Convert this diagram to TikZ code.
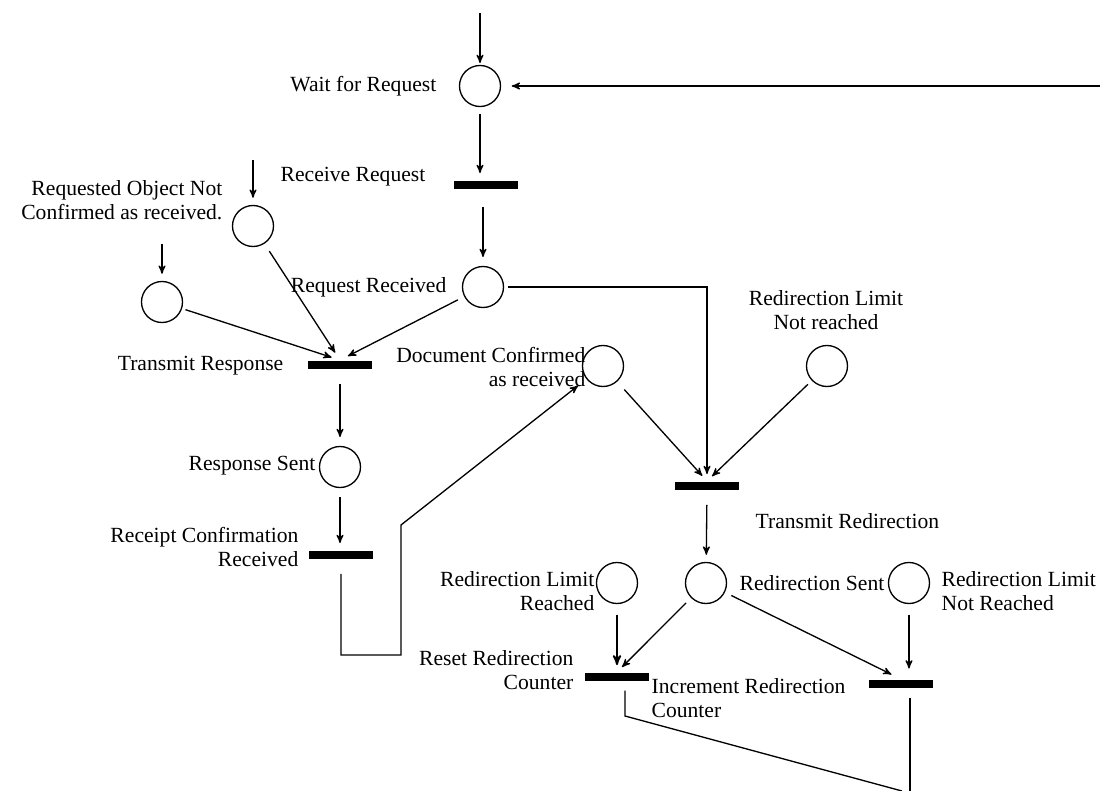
\documentclass[tikz,border=0pt]{standalone}
\usepackage{fontspec}
\setmainfont{Liberation Serif}
\usetikzlibrary{arrows}
\usetikzlibrary{positioning}

\begin{document}
\begin{tikzpicture}[x=0.02cm,y=-0.02cm,->,>=stealth',shorten >=1pt,shorten <=2pt,line width=0.75pt,
    place node/.style={circle,draw,minimum size=0.82cm,inner sep=0pt},
    bar node/.style={fill=black,minimum width=1.3cm,minimum height=0.17cm,inner sep=0pt},
    text node/.style={font=\fontsize{12.3}{14}\selectfont,inner sep=0pt}]
  \useasboundingbox (0,0) rectangle (1100,791);
  % places
  \node[place node] (wr) at (480,86) {};
  \node[place node] (ro) at (253,226) {};
  \node[place node] (lc) at (162,302) {};
  \node[place node] (rr) at (483,287) {};
  \node[place node] (rs) at (340,467) {};
  \node[place node] (dc) at (603,366) {};
  \node[place node] (lnr) at (827,366) {};
  \node[place node] (lr) at (617,583) {};
  \node[place node] (sent) at (706,583) {};
  \node[place node] (lnr2) at (909,583) {};
  % transitions
  \node[bar node] (rcv) at (486,185) {};
  \node[bar node] (tr) at (340,365) {};
  \node[bar node] (rcb) at (341,555) {};
  \node[bar node] (trd) at (707,486) {};
  \node[bar node] (rsb) at (617,677) {};
  \node[bar node] (inc) at (901,684) {};
  % labels
  \node[text node,anchor=east] (wrt) at (437,86) {Wait for Request};
  \node[text node,anchor=east] (rcvt) at (426,177) {Receive Request};
  \node[text node,anchor=east,align=right] (rot) at (223,200) {Requested Object Not\\Confirmed as received.};
  \node[text node,anchor=east] (rrt) at (447,287) {Request Received};
  \node[text node,anchor=east] (trt) at (284,366) {Transmit Response};
  \node[text node,anchor=east] (rst) at (316,466) {Response Sent};
  \node[text node,anchor=east,align=right] (rcbt) at (299,547) {Receipt Confirmation\\Received};
  \node[text node,anchor=east,align=right] (dct) at (586,367) {Document Confirmed\\as received};
  \node[text node,align=center] (lnrt) at (826,310) {Redirection Limit\\Not reached};
  \node[text node,anchor=west] (trdt) at (755,521) {Transmit Redirection};
  \node[text node,anchor=east,align=right] (lrt) at (595,591) {Redirection Limit\\Reached};
  \node[text node,anchor=east] (sentt) at (885,583) {Redirection Sent};
  \node[text node,anchor=west,align=left] (lnr2t) at (941,591) {Redirection Limit\\Not Reached};
  \node[text node,anchor=east,align=right] (rsbt) at (574,670) {Reset Redirection\\Counter};
  \node[text node,anchor=west,align=left] (inct) at (651,698) {Increment Redirection\\Counter};
  % free ends
  \coordinate (start) at (480,13);
  \coordinate (back) at (1100,86);
  \coordinate (in1) at (253,160);
  \coordinate (in2) at (162,244);
  \coordinate (k1) at (401,655);
  \coordinate (k2) at (401,525);
  \coordinate (k3) at (625,716);
  \coordinate (end1) at (902,791);
  \coordinate (end2) at (910,791);
  % arcs
  \path (start) edge[shorten <=0pt] (wr);
  \path (back) edge[shorten <=0pt,shorten >=6pt] (wr);
  \path (wr) edge[shorten <=4pt,shorten >=4pt] (rcv.north -| wr.south);
  \path (rcv.south -| rr.north) edge[shorten <=10pt,shorten >=5pt] (rr);
  \path (in1) edge[shorten <=0pt,shorten >=4pt] (ro);
  \path (in2) edge[shorten <=0pt,shorten >=4pt] (lc);
  \path (lc) edge[shorten <=2pt,shorten >=5pt] (tr.north);
  \path (ro) edge[shorten <=5pt,shorten >=5pt] (tr.north);
  \path (rr) edge[shorten <=4pt,shorten >=5pt] (tr.north);
  \path (tr.south) edge[shorten <=8pt,shorten >=5pt] (rs);
  \path (rs) edge[shorten <=5pt,shorten >=4pt] (rcb.north -| rs.south);
  \draw[shorten <=8pt,shorten >=6pt] (rcb.south) |- (k1) -- (k2) -- (dc);
  \draw[shorten <=2pt,shorten >=4pt] (rr.east) -| (trd.north);
  \path (dc) edge[shorten <=6pt,shorten >=4pt] (trd.north);
  \path (lnr) edge[shorten <=3pt,shorten >=4pt] (trd.north);
  \path (trd.south) edge[shorten <=8pt,shorten >=4pt] (sent);
  \path (lr) edge[shorten <=6pt,shorten >=4pt,line width=1pt] (rsb.north);
  \path (sent) edge[shorten <=4pt,shorten >=4pt] (rsb.north);
  \path (sent) edge[shorten <=4pt,shorten >=6pt] (inc.north);
  \path (lnr2) edge[shorten <=6pt,shorten >=6pt] (inc.north -| lnr2.south);
  \draw[-,shorten <=5pt,shorten >=0pt] (rsb.south -| k3) -- (k3) -- (end1);
  \draw[-,shorten <=5pt,shorten >=0pt] (inc.south -| end2) -- (end2);
\end{tikzpicture}
\end{document}
